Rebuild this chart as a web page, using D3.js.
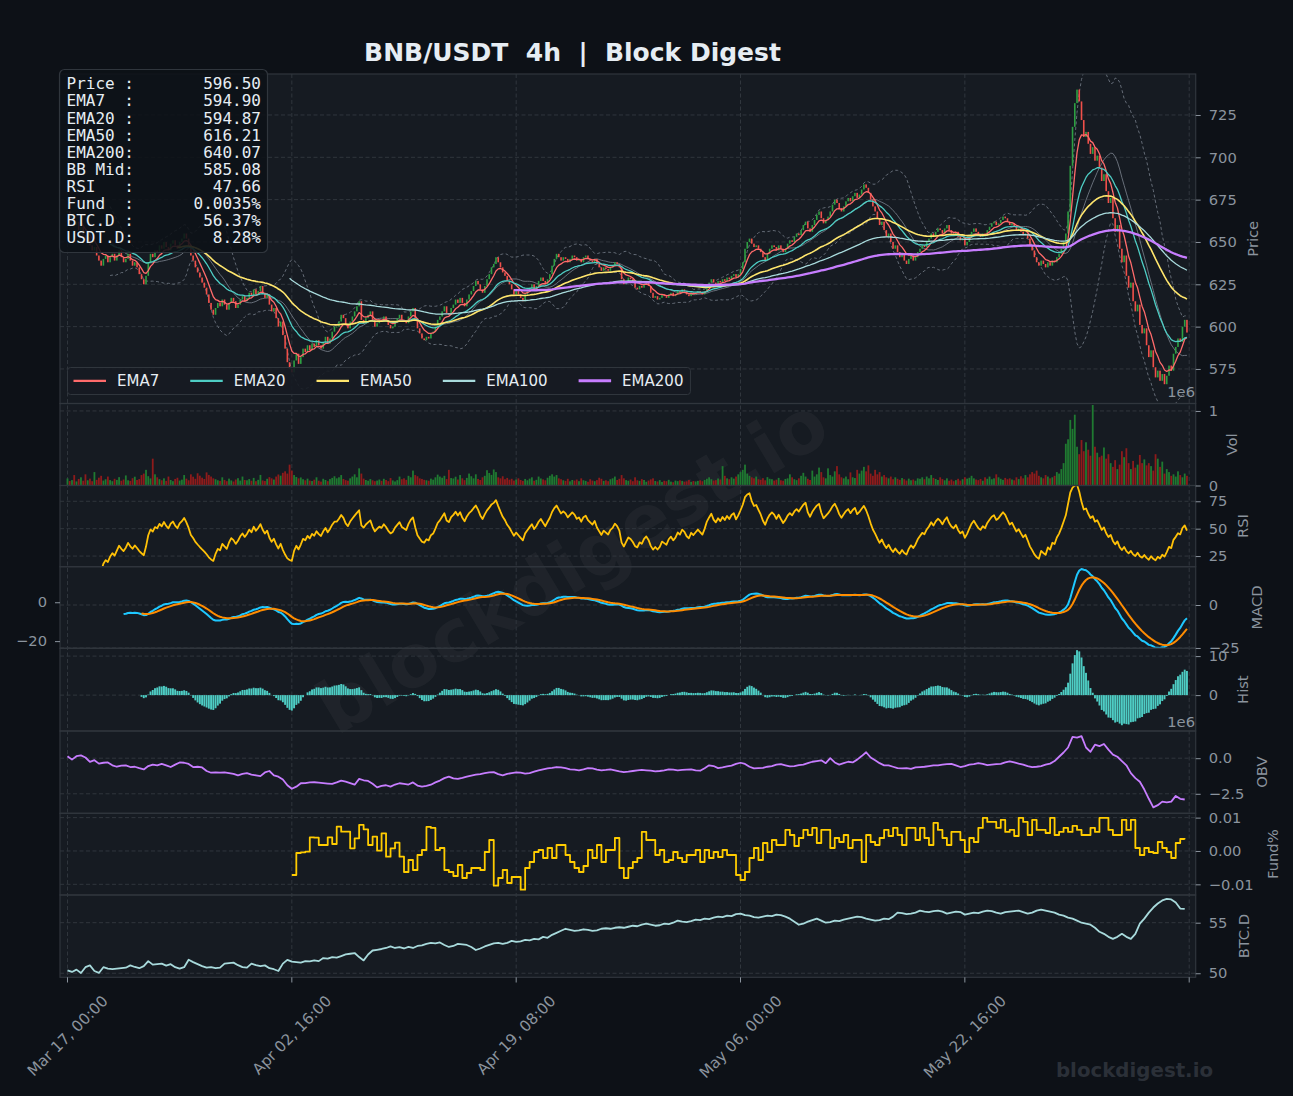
<!DOCTYPE html>
<html lang="en">
<head>
<meta charset="UTF-8">
<title>BNB/USDT 4h | Block Digest</title>
<script src="https://cdn.jsdelivr.net/npm/d3@7"></script>
<style>
  html, body { margin: 0; padding: 0; background: #0d1117; }
  svg text { font-family: "DejaVu Sans", sans-serif; }
</style>
</head>
<body>
<div id="chart"></div>
<script>
// ---- data ----
// 4h closes, one per candle, starting Mar 17 00:00
var closes = [
  668,664,666,660,662,657,659,654,651,653,648,645,647,642,639,636,640,642,638,641,
  643,639,642,645,641,638,640,643,639,636,638,635,631,628,625,630,638,643,641,645,
  644,648,646,650,647,645,649,651,648,646,650,652,655,652,648,642,639,635,632,629,
  626,623,619,614,610,607,611,614,612,616,613,610,614,617,615,611,613,616,618,615,
  617,620,618,622,619,621,624,620,617,619,613,609,611,605,600,603,595,587,579,575,
  573,580,584,578,582,587,585,589,586,590,588,592,589,587,591,594,590,593,597,600,
  600,603,607,605,601,599,603,606,609,612,615,604,602,605,607,609,604,600,602,604,
  603,606,604,601,599,600,603,605,607,604,603,602,606,609,611,605,599,596,593,592,
  594,593,596,597,600,604,606,609,612,608,607,611,613,616,614,617,614,612,616,619,
  621,624,627,625,622,620,624,628,631,635,637,641,638,635,632,630,627,625,622,619,
  621,619,617,615,619,621,623,625,622,624,627,629,627,625,628,631,636,640,643,641,
  639,641,640,638,640,642,641,639,640,638,641,642,640,639,638,640,637,635,633,635,
  634,633,635,636,638,637,635,628,625,627,629,628,626,623,622,624,623,625,626,624,
  620,617,618,616,617,619,618,617,619,620,618,619,621,620,622,621,619,618,620,619,
  620,621,620,619,621,624,626,628,626,625,627,626,628,627,629,628,630,631,629,631,
  634,638,646,650,652,649,647,648,646,644,641,639,643,646,648,647,645,648,646,644,
  646,649,651,650,653,655,654,657,660,662,658,656,660,663,666,668,664,661,663,665,
  668,672,675,673,670,668,671,674,676,674,677,679,676,678,681,684,682,679,675,671,
  668,664,660,662,657,653,655,650,646,648,644,641,643,639,637,640,642,639,641,644,
  646,648,647,650,652,655,653,656,658,657,655,658,660,657,655,654,656,653,651,652,
  648,650,653,656,658,656,654,653,655,654,657,659,661,662,660,661,663,665,664,662,
  660,661,659,657,658,656,654,655,652,648,645,641,638,636,639,637,635,638,636,639,
  638,641,643,646,650,655,668,695,718,732,740,733,722,712,715,708,702,706,698,701,
  694,686,690,680,673,676,664,656,660,646,638,642,630,623,626,615,609,613,601,596,
  599,589,582,586,576,570,574,568,572,566,571,577,574,584,588,593,591,600,604,596.5
];

// volume per candle, thousands
var volumesK = [
  95,60,72,140,55,88,110,64,150,70,92,58,180,76,105,130,66,84,120,72,
  58,90,75,112,64,80,135,70,62,98,118,74,86,140,160,210,125,95,360,150,
  110,85,70,96,62,120,74,58,88,104,66,78,140,92,70,150,118,90,164,132,
  105,88,176,142,120,96,84,70,62,110,75,58,92,68,54,80,98,66,120,74,
  70,86,64,102,58,76,142,68,60,90,112,96,80,120,148,132,170,190,160,280,
  200,140,115,96,108,84,70,92,66,60,78,110,64,52,90,74,58,86,102,124,
  96,110,140,88,72,64,96,120,150,110,230,160,92,74,64,86,70,58,66,80,
  62,90,74,58,100,68,54,72,120,84,96,76,130,110,200,140,124,96,88,76,
  70,64,92,78,110,146,120,104,130,86,210,100,94,118,80,140,96,72,102,160,
  124,96,150,88,74,110,130,205,168,142,215,180,110,96,124,84,102,78,90,66,
  80,96,74,62,88,70,92,110,64,76,120,94,82,70,104,130,150,120,140,96,
  84,70,62,90,56,74,66,80,58,96,70,62,50,84,66,58,72,104,90,62,
  70,58,84,96,120,74,90,140,96,72,64,80,58,110,70,62,86,74,50,66,
  82,96,60,54,72,48,64,58,76,52,44,66,58,70,62,50,56,74,48,60,
  54,62,70,58,76,90,110,84,66,72,94,80,260,130,96,84,110,92,120,150,
  180,210,280,160,130,110,96,120,84,76,98,70,112,90,84,66,78,102,70,64,
  88,96,150,110,84,72,96,130,170,120,90,74,200,120,150,240,180,110,96,230,
  140,120,190,260,150,110,96,120,84,176,110,100,210,160,200,250,190,270,160,130,
  210,150,180,120,140,110,96,120,84,110,90,76,100,84,66,92,70,80,64,96,
  90,110,84,120,96,140,102,88,74,110,86,70,96,64,80,58,72,90,66,84,
  110,92,104,130,96,80,72,88,64,110,90,120,84,96,150,110,90,76,102,84,
  96,80,70,110,86,124,96,140,110,150,180,160,200,130,110,96,140,120,96,110,
  130,180,160,220,300,560,620,880,760,950,520,420,610,460,580,480,400,1080,520,440,
  380,400,510,360,420,300,250,340,220,280,460,380,500,300,220,330,240,280,410,300,
  350,270,300,260,200,420,360,250,320,160,220,180,130,150,120,190,140,110,160,130
];

// OBV, millions, every 2nd candle
var obvM = [
  0.14,-0.1,0.14,0.2,0.05,-0.26,-0.14,-0.38,-0.32,-0.3,
  -0.5,-0.6,-0.52,-0.5,-0.62,-0.6,-0.7,-0.79,-0.55,-0.45,
  -0.5,-0.4,-0.5,-0.62,-0.45,-0.3,-0.32,-0.4,-0.62,-0.6,
  -0.65,-0.9,-1.02,-1.0,-1.02,-1.0,-1.05,-1.1,-1.2,-1.1,
  -1.05,-1.15,-1.2,-1.26,-1.0,-0.9,-1.2,-1.3,-1.5,-1.9,
  -2.15,-2.0,-1.76,-1.75,-1.7,-1.69,-1.72,-1.75,-1.78,-1.81,
  -1.7,-1.57,-1.65,-1.75,-1.86,-1.45,-1.55,-1.6,-1.8,-2.05,
  -1.95,-1.9,-2.0,-1.85,-1.76,-1.8,-1.85,-1.7,-1.92,-2.0,
  -1.95,-1.86,-1.7,-1.57,-1.4,-1.3,-1.42,-1.45,-1.38,-1.3,
  -1.22,-1.15,-1.12,-1.05,-1.0,-0.98,-1.12,-1.2,-1.1,-1.05,
  -1.0,-1.02,-1.08,-1.05,-0.95,-0.85,-0.78,-0.72,-0.68,-0.62,
  -0.65,-0.7,-0.78,-0.8,-0.85,-0.78,-0.7,-0.72,-0.8,-0.85,
  -0.82,-0.78,-0.85,-0.92,-0.98,-0.95,-0.9,-0.85,-0.82,-0.85,
  -0.88,-0.92,-0.9,-0.85,-0.78,-0.8,-0.85,-0.82,-0.8,-0.78,
  -0.85,-0.88,-0.7,-0.5,-0.55,-0.7,-0.65,-0.58,-0.52,-0.4,
  -0.32,-0.4,-0.6,-0.72,-0.7,-0.68,-0.6,-0.55,-0.45,-0.42,
  -0.5,-0.58,-0.55,-0.48,-0.45,-0.35,-0.25,-0.2,-0.15,-0.35,
  0.0,-0.3,-0.45,-0.35,-0.25,-0.3,-0.1,0.15,0.42,0.05,
  -0.15,-0.35,-0.5,-0.5,-0.6,-0.7,-0.72,-0.7,-0.75,-0.65,
  -0.62,-0.6,-0.55,-0.5,-0.5,-0.45,-0.42,-0.4,-0.5,-0.62,
  -0.55,-0.45,-0.42,-0.35,-0.4,-0.48,-0.45,-0.42,-0.4,-0.3,
  -0.22,-0.3,-0.38,-0.45,-0.55,-0.62,-0.6,-0.55,-0.45,-0.38,
  -0.2,0.1,0.4,0.75,1.5,1.45,1.55,0.75,0.45,0.95,
  0.85,1.0,0.6,0.25,0.1,-0.2,-0.5,-1.05,-1.4,-1.65,
  -2.2,-2.85,-3.45,-3.3,-3.05,-3.1,-3.05,-2.65,-2.85,-2.9
];

// BTC dominance %, every 2nd candle
var btcDom = [
  50.29,50.13,50.36,50.03,50.6,50.78,50.22,50.03,50.6,50.45,
  50.4,50.45,50.5,50.55,50.78,50.62,50.5,50.7,51.2,50.85,
  50.9,50.95,50.75,50.9,50.6,50.45,50.6,51.33,51.1,50.9,
  50.7,50.55,50.6,50.5,50.55,50.95,51.0,51.05,50.8,50.6,
  50.55,50.95,50.8,50.7,50.78,50.5,50.4,50.22,50.95,51.33,
  51.15,51.1,51.05,51.2,51.18,51.27,51.2,51.5,51.45,51.6,
  51.55,51.7,51.86,51.93,52.0,51.6,51.27,51.86,52.25,52.32,
  52.4,52.5,52.65,52.5,52.58,52.45,52.6,52.5,52.7,52.75,
  52.9,53.0,52.95,53.05,52.8,52.6,52.7,52.9,52.85,52.8,
  52.6,52.3,52.45,52.65,52.8,52.95,53.0,52.9,53.0,53.2,
  53.1,53.15,53.3,53.25,53.4,53.35,53.6,53.5,53.8,54.0,
  54.2,54.4,54.3,54.2,54.25,54.35,54.3,54.2,54.25,54.4,
  54.45,54.4,54.5,54.55,54.5,54.6,54.7,54.65,54.8,54.9,
  54.8,54.7,54.75,54.9,54.85,55.0,55.2,55.1,55.05,55.15,
  55.3,55.25,55.4,55.35,55.5,55.6,55.55,55.7,55.65,55.85,
  55.9,55.75,55.7,55.55,55.5,55.6,55.7,55.65,55.8,55.75,
  55.6,55.4,55.1,54.8,54.9,55.1,55.25,55.4,55.2,55.0,
  55.05,55.2,55.15,55.3,55.4,55.5,55.6,55.55,55.4,55.3,
  55.2,55.25,55.4,55.35,55.6,56.0,55.95,55.85,55.9,56.0,
  56.2,56.1,56.05,56.15,56.2,56.1,55.9,56.0,56.1,56.05,
  55.8,55.9,56.0,55.95,56.1,56.2,56.15,56.0,55.9,56.05,
  56.1,56.15,56.2,56.05,55.9,56.0,56.2,56.3,56.2,56.1,
  56.0,55.8,55.7,55.5,55.4,55.2,55.0,54.9,54.8,54.5,
  54.1,53.9,53.6,53.4,53.6,53.9,53.6,53.4,53.9,54.9,
  55.4,56.0,56.5,56.9,57.2,57.35,57.3,57.0,56.4,56.37
];

// funding rate in units of 0.001 %, every 2nd candle from candle 100
var fundStart = 100;
var fund1e3 = [
  -7.2,-0.6,-0.4,-0.2,4.1,4.0,1.8,1.8,4.1,2.1,
  7.3,5.8,5.8,0.8,3.8,7.8,6.5,1.8,4.3,0.1,
  5.3,-1.7,0.8,2.5,-1.7,-6.3,-2.7,-5.7,-1.2,0.3,
  7.2,6.9,0.3,0.9,-5.7,-6.3,-7.5,-4.2,-8.1,-6.6,
  -5.1,-5.1,-5.7,-0.3,3.3,-10.4,-8.1,-5.7,-9.6,-7.8,
  -7.8,-11.6,-5.1,-3.3,-0.3,0.3,-2.1,0.9,-2.1,1.8,
  1.8,-1.2,-3.3,-5.1,-6.3,-4.5,0.3,-2.1,1.8,-3.3,
  0.3,0.3,3.9,-5.1,-8.1,-5.1,-3.3,-2.1,5.7,3.3,
  3.3,-1.2,0.3,-3.3,-2.7,-0.3,-2.1,-3.3,-1.2,-1.2,
  0.3,-3.3,0.3,-2.1,-0.3,-1.8,0.3,-1.2,-1.2,-7.2,
  -8.7,-6.3,-2.1,0.9,-2.7,2.4,-0.3,3.3,1.8,1.8,
  6.3,4.8,1.5,3.9,6.3,4.8,6.9,2.4,6.3,6.3,
  0.9,3.9,2.7,4.8,0.9,3.3,3.3,-3.3,4.8,2.7,
  1.8,3.9,6.3,4.5,6.9,4.8,1.8,6.9,6.9,3.3,
  6.9,3.9,1.8,8.4,6.3,3.9,1.8,5.7,5.7,3.3,
  -0.3,3.9,2.7,6.9,9.9,8.7,8.7,6.9,9.3,5.7,
  6.3,4.5,9.9,8.7,4.8,9.3,6.3,6.3,5.4,9.9,
  4.8,5.7,6.9,5.7,7.5,6.3,4.8,4.8,6.9,5.7,
  9.9,9.9,6.3,4.8,4.8,9.3,6.3,9.3,0.9,-1.2,
  0.9,-0.3,-0.6,2.7,0.9,-0.3,-2.1,2.4,3.6,3.5
];

var tickIdx = [0, 100, 200, 300, 400, 500];
var tickLabels = ["Mar 17, 00:00", "Apr 02, 16:00", "Apr 19, 08:00", "May 06, 00:00", "May 22, 16:00", ""];

var infoLabels = ["Price :", "EMA7  :", "EMA20 :", "EMA50 :", "EMA200:", "BB Mid:", "RSI   :", "Fund  :", "BTC.D :", "USDT.D:"];
var infoValues = ["596.50", "594.90", "594.87", "616.21", "640.07", "585.08", "47.66", "0.0035%", "56.37%", "8.28%"];

var emaNames = ["EMA7", "EMA20", "EMA50", "EMA100", "EMA200"];
var emaSpans = [7, 20, 50, 100, 200];
var emaColors = ["#ff6b6b", "#4ecdc4", "#ffe66d", "#a8dadc", "#c77dff"];
var emaWidths = [1.3, 1.3, 1.6, 1.3, 2.3];

// ---- indicators ----
function ema(arr, n) {
  var k = 2 / (n + 1), out = [], prev = null, cnt = 0;
  arr.forEach(function(v) {
    if (v == null) { out.push(null); return; }
    prev = prev == null ? v : v * k + prev * (1 - k);
    cnt++;
    out.push(cnt >= n ? prev : null);
  });
  return out;
}
function smaStd(arr, n) {
  var mid = [], up = [], lo = [];
  arr.forEach(function(v, i) {
    if (i < n - 1) { mid.push(null); up.push(null); lo.push(null); return; }
    var w = arr.slice(i - n + 1, i + 1), m = d3.mean(w);
    var sd = Math.sqrt(d3.sum(w, function(x) { return (x - m) * (x - m); }) / (n - 1));
    mid.push(m); up.push(m + 2 * sd); lo.push(m - 2 * sd);
  });
  return { mid: mid, up: up, lo: lo };
}
function rsi(arr, n) {
  var out = [null], ag = null, al = null;
  for (var i = 1; i < arr.length; i++) {
    var d = arr[i] - arr[i - 1], g = Math.max(d, 0), l = Math.max(-d, 0);
    if (ag == null) { ag = g; al = l; } else { ag = (ag * (n - 1) + g) / n; al = (al * (n - 1) + l) / n; }
    out.push(i >= n ? (al === 0 ? 100 : 100 - 100 / (1 + ag / al)) : null);
  }
  return out;
}

var opens = closes.map(function(c, i) { return i === 0 ? c : closes[i - 1]; });
var emas = emaSpans.map(function(n) { return ema(closes, n); });
var bb = smaStd(closes, 20);
var rsiVals = rsi(closes, 14);
var e12 = ema(closes, 12), e26 = ema(closes, 26);
var macd = closes.map(function(c, i) { return e26[i] == null ? null : e12[i] - e26[i]; });
var signal = ema(macd, 9);
var hist = macd.map(function(m, i) { return signal[i] == null ? null : m - signal[i]; });

// ---- layout ----
var W = 1293, H = 1096, X0 = 60, X1 = 1195.7;
var GRID = "#30363d", TXT = "#8b949e", FS = 14.7;
var xs = d3.scaleLinear().domain([-3.34, 502.9]).range([X0, X1]);

var panels = [
  { key: "price", top: 74,    bottom: 403.5 },
  { key: "vol",   top: 403.5, bottom: 485.5 },
  { key: "rsi",   top: 485.5, bottom: 566.7 },
  { key: "macd",  top: 566.7, bottom: 648.3 },
  { key: "hist",  top: 648.3, bottom: 731 },
  { key: "obv",   top: 731,   bottom: 813.3 },
  { key: "fund",  top: 813.3, bottom: 895 },
  { key: "btcd",  top: 895,   bottom: 977.3 }
];
var P = {};
panels.forEach(function(p) { P[p.key] = p; });

var yPrice = d3.scaleLinear().domain([554.6, 749.2]).range([403.5, 74]);
var yVol   = d3.scaleLinear().domain([0, 1.1e6]).range([485.5, 403.5]);
var yRsi   = d3.scaleLinear().domain([15.3, 89.4]).range([566.7, 485.5]);
var yMacd  = d3.scaleLinear().domain([-25.2, 22.3]).range([648.3, 566.7]);
var yMacdL = d3.scaleLinear().domain([-23.7, 18.3]).range([648.3, 566.7]);
var yHist  = d3.scaleLinear().domain([-9.2, 12]).range([731, 648.3]);
var yObv   = d3.scaleLinear().domain([-3.87e6, 1.91e6]).range([813.3, 731]);
var yFund  = d3.scaleLinear().domain([-0.0132, 0.0113]).range([895, 813.3]);
var yBtc   = d3.scaleLinear().domain([49.6, 57.74]).range([977.3, 895]);

var minus = function(s) { return String(s).replace("-", "\u2212"); };

var svg = d3.select("#chart").append("svg")
  .attr("width", W).attr("height", H).style("display", "block");
svg.append("rect").attr("width", W).attr("height", H).attr("fill", "#0d1117");
var defs = svg.append("defs");

panels.forEach(function(p) {
  defs.append("clipPath").attr("id", "clip-" + p.key).append("rect")
    .attr("x", X0).attr("y", p.top).attr("width", X1 - X0).attr("height", p.bottom - p.top);
  svg.append("rect").attr("x", X0).attr("y", p.top)
    .attr("width", X1 - X0).attr("height", p.bottom - p.top).attr("fill", "#161b22");
});

// big watermark
svg.append("text").text("blockdigest.io")
  .attr("transform", "translate(572,565) rotate(-31)")
  .attr("text-anchor", "middle").attr("dy", "0.35em")
  .attr("font-size", 73).attr("font-weight", "bold")
  .attr("fill", "#ffffff").attr("fill-opacity", 0.04);

// grids
var grid = svg.append("g").attr("stroke", GRID).attr("stroke-width", 1).attr("stroke-dasharray", "4,2.5");
tickIdx.forEach(function(t) {
  grid.append("line").attr("x1", xs(t)).attr("x2", xs(t)).attr("y1", 74).attr("y2", 977.3);
});
function hGrid(scale, vals) {
  vals.forEach(function(v) {
    grid.append("line").attr("x1", X0).attr("x2", X1).attr("y1", scale(v)).attr("y2", scale(v));
  });
}
hGrid(yPrice, [575, 600, 625, 650, 675, 700, 725]);
hGrid(yVol, [1e6]);
hGrid(yRsi, [25, 50, 75]);
hGrid(yMacd, [-25, 0]);
hGrid(yHist, [0, 10]);
hGrid(yObv, [-2.5e6, 0]);
hGrid(yFund, [-0.01, 0, 0.01]);
hGrid(yBtc, [50, 55]);

function layer(key) { return svg.append("g").attr("clip-path", "url(#clip-" + key + ")"); }
function drawLine(g, vals, scale, color, width, xOf, dash, curve) {
  var gen = d3.line()
    .defined(function(d) { return d != null; })
    .x(function(d, i) { return xOf ? xOf(i) : xs(i); })
    .y(function(d) { return scale(d); });
  if (curve) gen.curve(curve);
  return g.append("path").datum(vals).attr("d", gen)
    .attr("fill", "none").attr("stroke", color).attr("stroke-width", width)
    .attr("stroke-linejoin", "round").attr("stroke-dasharray", dash || null);
}

// price panel
var gp = layer("price");
drawLine(gp, bb.up, yPrice, "#6e7681", 0.9, null, "3,2.5");
drawLine(gp, bb.lo, yPrice, "#6e7681", 0.9, null, "3,2.5");
drawLine(gp, bb.mid, yPrice, "#7d8590", 1.0).attr("stroke-opacity", 0.8);
gp.selectAll("rect.candle").data(closes).enter().append("rect")
  .attr("x", function(d, i) { return xs(i) - 0.8; })
  .attr("width", 1.6)
  .attr("y", function(d, i) { return yPrice(Math.max(d, opens[i])); })
  .attr("height", function(d, i) { return Math.max(0.8, Math.abs(yPrice(d) - yPrice(opens[i]))); })
  .attr("fill", function(d, i) { return d >= opens[i] ? "#2ea043" : "#f0504a"; });
emas.forEach(function(e, j) { drawLine(gp, e, yPrice, emaColors[j], emaWidths[j]); });

// volume
var gv = layer("vol");
gv.selectAll("rect").data(volumesK).enter().append("rect")
  .attr("x", function(d, i) { return xs(i) - 0.9; })
  .attr("width", 1.8)
  .attr("y", function(d) { return yVol(d * 1000); })
  .attr("height", function(d) { return yVol(0) - yVol(d * 1000); })
  .attr("fill", function(d, i) { return closes[i] >= opens[i] ? "#1f7a31" : "#8e1b1b"; });

// RSI
drawLine(layer("rsi"), rsiVals, yRsi, "#ffc107", 1.8);

// MACD
var gm = layer("macd");
drawLine(gm, macd, yMacd, "#1ec8ff", 2);
drawLine(gm, signal, yMacd, "#ff8c00", 2);

// histogram
var gh = layer("hist");
hist.forEach(function(d, i) {
  if (d == null) return;
  gh.append("rect").attr("x", xs(i) - 0.95).attr("width", 1.9)
    .attr("y", Math.min(yHist(d), yHist(0)))
    .attr("height", Math.abs(yHist(d) - yHist(0)))
    .attr("fill", "#4ecdc4");
});

// OBV, funding, BTC dominance
drawLine(layer("obv"), obvM.map(function(v) { return v * 1e6; }), yObv, "#c77dff", 1.8,
  function(i) { return xs(i * 2); });
drawLine(layer("fund"), fund1e3.map(function(v) { return v / 1000; }), yFund, "#ffcc00", 1.8,
  function(i) { return xs(fundStart + i * 2); }, null, d3.curveStepAfter);
drawLine(layer("btcd"), btcDom, yBtc, "#a8dadc", 1.8, function(i) { return xs(i * 2); });

// frames
panels.forEach(function(p) {
  svg.append("rect").attr("x", X0).attr("y", p.top)
    .attr("width", X1 - X0).attr("height", p.bottom - p.top)
    .attr("fill", "none").attr("stroke", "#30363d").attr("stroke-width", 1.2);
});

// axes
function styleAxis(g) {
  g.select(".domain").remove();
  g.attr("font-size", FS);
  g.selectAll("line").attr("stroke", TXT);
  g.selectAll("text").attr("fill", TXT);
}
function rightAxis(scale, vals, fmt) {
  var g = svg.append("g").attr("transform", "translate(" + X1 + ",0)")
    .call(d3.axisRight(scale).tickValues(vals).tickFormat(function(v) { return minus(fmt(v)); })
      .tickSize(5).tickPadding(8));
  styleAxis(g);
}
rightAxis(yPrice, [575, 600, 625, 650, 675, 700, 725], d3.format("d"));
rightAxis(yVol, [0, 1e6], function(v) { return d3.format("d")(v / 1e6); });
rightAxis(yRsi, [25, 50, 75], d3.format("d"));
rightAxis(yMacd, [-25, 0], d3.format("d"));
rightAxis(yHist, [0, 10], d3.format("d"));
rightAxis(yObv, [-2.5e6, 0], function(v) { return d3.format(".1f")(v / 1e6); });
rightAxis(yFund, [-0.01, 0, 0.01], d3.format(".2f"));
rightAxis(yBtc, [50, 55], d3.format("d"));
var gl = svg.append("g").attr("transform", "translate(" + X0 + ",0)")
  .call(d3.axisLeft(yMacdL).tickValues([-20, 0]).tickFormat(function(v) { return minus(v); })
    .tickSize(5).tickPadding(8));
styleAxis(gl);

// offset text
[397, 726.5].forEach(function(y) {
  svg.append("text").text("1e6").attr("x", 1195).attr("y", y)
    .attr("text-anchor", "end").attr("font-size", FS).attr("fill", TXT);
});

// y labels
var yLabels = [["Price", 1253, "price"], ["Vol", 1232, "vol"], ["RSI", 1243, "rsi"], ["MACD", 1257, "macd"],
  ["Hist", 1243, "hist"], ["OBV", 1262, "obv"], ["Fund%", 1273, "fund"], ["BTC.D", 1243.5, "btcd"]];
yLabels.forEach(function(l) {
  var p = P[l[2]], cy = (p.top + p.bottom) / 2;
  svg.append("text").text(l[0])
    .attr("transform", "translate(" + l[1] + "," + cy + ") rotate(-90)")
    .attr("text-anchor", "middle").attr("dy", "0.35em")
    .attr("font-size", FS).attr("fill", TXT);
});

// x axis ticks + rotated labels
var gx = svg.append("g");
tickIdx.forEach(function(t, i) {
  var tx = xs(t);
  gx.append("line").attr("x1", tx).attr("x2", tx).attr("y1", 977.3).attr("y2", 982.5)
    .attr("stroke", TXT);
  if (!tickLabels[i]) return;
  var fs = 15.2;
  var el = gx.append("text").text(tickLabels[i]).attr("text-anchor", "end")
    .attr("font-size", fs).attr("fill", TXT);
  var L = el.node().getComputedTextLength(), asc = fs * 0.93, desc = fs * 0.24;
  var ax = tx + 0.7071 * (L + asc - desc) / 2, ay = 992 + 0.7071 * asc;
  el.attr("transform", "translate(" + ax + "," + ay + ") rotate(-45)");
});

// legend
var lg = svg.append("g");
var lgBox = lg.append("rect").attr("x", 67.5).attr("y", 367.5).attr("height", 27).attr("rx", 3)
  .attr("fill", "#161b22").attr("fill-opacity", 0.9).attr("stroke", "#30363d");
var lx = 73.5;
emaNames.forEach(function(n, j) {
  lg.append("line").attr("x1", lx).attr("x2", lx + 32.5).attr("y1", 380.8).attr("y2", 380.8)
    .attr("stroke", emaColors[j]).attr("stroke-width", j === 4 ? 3 : 2.2);
  var t = lg.append("text").text(n).attr("x", lx + 43.5).attr("y", 386.3)
    .attr("font-size", 15).attr("fill", "#e6edf3");
  lx = lx + 43.5 + t.node().getComputedTextLength() + 31;
});
lgBox.attr("width", lx - 31 + 7 - 67.5);

// info box
var ib = svg.append("g");
ib.append("rect").attr("x", 59.5).attr("y", 69.5).attr("width", 208).attr("height", 183).attr("rx", 5)
  .attr("fill", "#0d1117").attr("fill-opacity", 0.88).attr("stroke", "#30363d").attr("stroke-width", 1.2);
infoLabels.forEach(function(l, i) {
  var y = 89.3 + i * 17.1;
  ib.append("text").text(l).attr("x", 66.5).attr("y", y)
    .style("white-space", "pre").style("font-family", "'DejaVu Sans Mono', monospace")
    .attr("font-size", 16).attr("fill", "#e6edf3");
  ib.append("text").text(infoValues[i]).attr("x", 261).attr("y", y).attr("text-anchor", "end")
    .style("font-family", "'DejaVu Sans Mono', monospace")
    .attr("font-size", 16).attr("fill", "#e6edf3");
});

// title
svg.append("text").text("BNB/USDT  4h  |  Block Digest")
  .attr("x", 572.5).attr("y", 61).attr("text-anchor", "middle").style("white-space", "pre")
  .attr("font-size", 25).attr("font-weight", "bold").attr("fill", "#e6edf3");

// footer mark
svg.append("text").text("blockdigest.io").attr("x", 1213).attr("y", 1077)
  .attr("text-anchor", "end").attr("font-size", 19.8).attr("font-weight", "bold").attr("fill", "#2b3038");
</script>
</body>
</html>
